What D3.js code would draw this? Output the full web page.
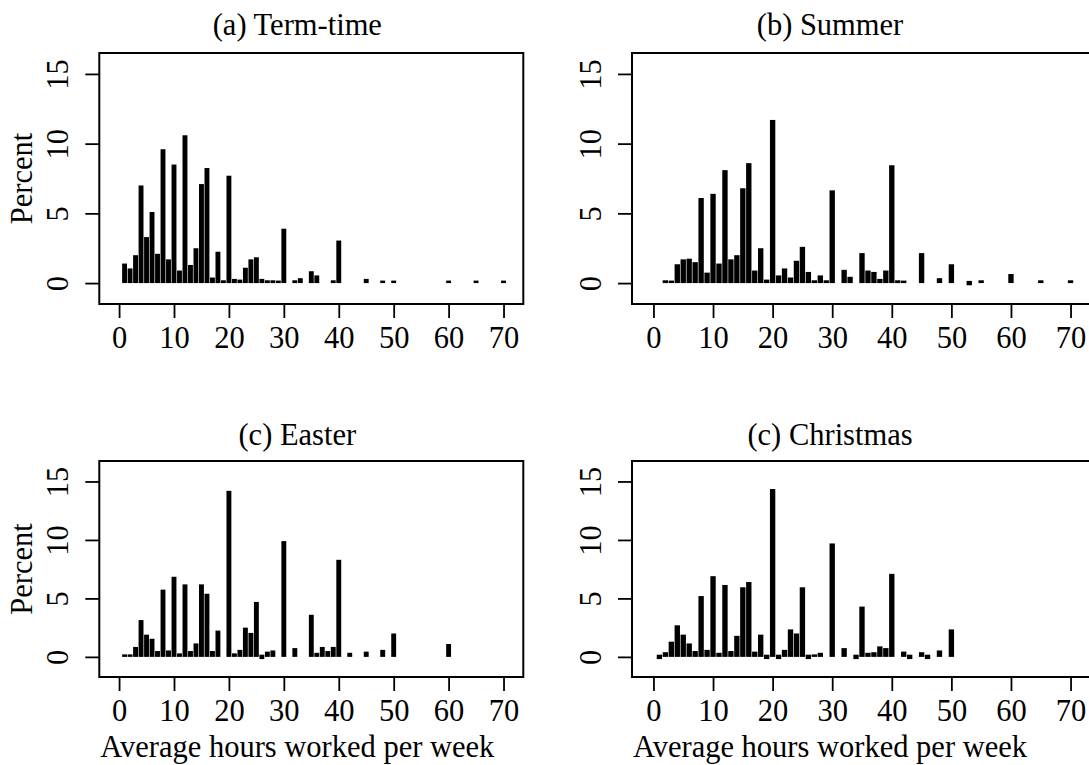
<!DOCTYPE html>
<html>
<head>
<meta charset="utf-8">
<script src="https://cdn.jsdelivr.net/npm/d3@7"></script>
<style>
  body { margin: 0; background: #fff; }
  text { font-family: "Liberation Serif", "Times New Roman", serif; }
</style>
</head>
<body>
<svg id="chart" width="1089" height="765"></svg>
<script>

//////////////////////////////////////////////////////////////
// Data: percent of students by average hours worked per week
//////////////////////////////////////////////////////////////

var termHours = [1,2,3,4,5,6,7,8,9,10,11,12,13,14,15,16,17,18,19,20,21,22,23,24,25,26,27,28,29,30,
                 32,33,35,36,39,40,45,48,50,60,65,70];
var termPct   = [1.4,1.05,2.0,7.0,3.3,5.1,2.1,9.6,1.7,8.5,0.9,10.6,1.3,2.5,7.1,8.25,0.4,2.25,0.2,7.7,
                 0.3,0.25,1.1,1.7,1.85,0.3,0.2,0.2,0.15,3.9,0.2,0.35,0.85,0.55,0.2,3.05,0.3,0.15,0.15,
                 0.15,0.15,0.15];

var summerHours = [2,3,4,5,6,7,8,9,10,11,12,13,14,15,16,17,18,19,20,21,22,23,24,25,26,27,28,29,30,
                   32,33,35,36,37,38,39,40,41,42,45,48,50,53,55,60,65,70];
var summerPct   = [0.2,0.15,1.35,1.7,1.75,1.5,6.1,0.75,6.4,1.4,8.1,1.7,2.0,6.8,8.6,0.9,2.5,0.25,11.7,
                   0.55,1.05,0.4,1.6,2.6,0.8,0.2,0.55,0.2,6.65,0.95,0.45,2.15,0.9,0.8,0.3,0.9,8.45,
                   0.2,0.15,2.15,0.35,1.35,0,0.2,0.65,0.2,0.2];

var easterHours = [1,2,3,4,5,6,7,8,9,10,11,12,13,14,15,16,17,18,20,21,22,23,24,25,26,27,28,30,32,
                   35,36,37,38,39,40,42,45,48,50,60];
var easterPct   = [0.2,0.2,0.85,3.15,1.9,1.55,0.5,5.75,0.55,6.85,0.3,6.2,0.5,1.15,6.2,5.4,0.5,2.25,
                   14.2,0.3,0.6,2.5,2.05,4.7,0,0.45,0.55,9.9,0.75,3.6,0.35,0.85,0.5,0.85,8.3,0.35,
                   0.45,0.6,2.0,1.1];

var christmasHours = [1,2,3,4,5,6,7,8,9,10,11,12,13,14,15,16,17,18,19,20,21,22,23,24,25,26,27,28,
                      30,32,34,35,36,37,38,39,40,42,43,45,46,48,50];
var christmasPct   = [0,0.4,1.3,2.7,1.9,1.15,0.5,5.2,0.6,6.9,0.35,6.15,0.5,1.8,5.95,6.4,0.45,1.9,0,
                      14.35,0,0.6,2.35,2.0,5.95,0,0.2,0.35,9.7,0.75,0,4.3,0.35,0.4,0.9,0.75,7.1,
                      0.45,0,0.4,0,0.55,2.35];

var titles = ["(a) Term-time", "(b) Summer", "(c) Easter", "(c) Christmas"];
var xTicks = [0,10,20,30,40,50,60,70];
var yTicks = [0,5,10,15];
var yLabel = "Percent";
var xLabel = "Average hours worked per week";

var fontSize = 30.5;
var svg = d3.select("#chart");

/////////////////////////////////////////////////////////////////
// Draw one panel: box, bars, axes and labels
/////////////////////////////////////////////////////////////////

function drawPanel(hours, pct, title, box, yDomain, titleGap, showYLab, showXLab) {

    var xScale = d3.scaleLinear()
                   .domain([-3.6, 73.6])
                   .range([box.left, box.right]);

    var yScale = d3.scaleLinear()
                   .domain(yDomain)
                   .range([box.bottom, box.top]);

    var data = hours.map(function(h, i) { return {hour: h, pct: pct[i]}; });
    var y0 = yScale(0);

    // bars, one hour wide; zero values show as a small dot on the baseline
    svg.append("g")
       .selectAll("rect")
       .data(data)
       .enter()
       .append("rect")
       .attr("x", function(d) { return xScale(d.hour - 0.5) + 0.3; })
       .attr("width", function(d) { return xScale(d.hour + 0.5) - xScale(d.hour - 0.5) - 0.6; })
       .attr("y", function(d) {
           if (d.pct === 0) return y0 - 2.2;
           return Math.min(yScale(d.pct), y0 - 2.5);
       })
       .attr("height", function(d) {
           if (d.pct === 0) return 4.4;
           return Math.max(y0 - yScale(d.pct), 2.5);
       })
       .attr("fill", "#000");

    // x axis
    var xAxis = d3.axisBottom(xScale)
                  .tickValues(xTicks)
                  .tickSizeInner(14)
                  .tickSizeOuter(0)
                  .tickPadding(8)
                  .tickFormat(d3.format("d"));

    var gx = svg.append("g")
                .attr("transform", "translate(0," + box.bottom + ")")
                .call(xAxis);
    gx.select(".domain").remove();
    gx.selectAll("line").attr("stroke", "#000").attr("stroke-width", 1.8);
    gx.selectAll("text")
      .attr("font-size", fontSize)
      .attr("font-family", "Liberation Serif, Times New Roman, serif")
      .attr("fill", "#000");

    // y axis, labels parallel to the axis as in R
    var yAxis = d3.axisLeft(yScale)
                  .tickValues(yTicks)
                  .tickSizeInner(14)
                  .tickSizeOuter(0)
                  .tickFormat(d3.format("d"));

    var gy = svg.append("g")
                .attr("transform", "translate(" + box.left + ",0)")
                .call(yAxis);
    gy.select(".domain").remove();
    gy.selectAll("line").attr("stroke", "#000").attr("stroke-width", 1.8);
    gy.selectAll("text")
      .attr("x", null)
      .attr("dy", null)
      .attr("text-anchor", "middle")
      .attr("transform", "translate(-31,0) rotate(-90)")
      .attr("font-size", fontSize)
      .attr("font-family", "Liberation Serif, Times New Roman, serif")
      .attr("fill", "#000");

    // box
    svg.append("rect")
       .attr("x", box.left)
       .attr("y", box.top)
       .attr("width", box.right - box.left)
       .attr("height", box.bottom - box.top)
       .attr("fill", "none")
       .attr("stroke", "#000")
       .attr("stroke-width", 2);

    // titles and x label sit a little left of the box centre in the original
    var cx = box.left + 198;
    var cy = (box.top + box.bottom) / 2;

    // title
    svg.append("text")
       .attr("x", cx)
       .attr("y", box.top - titleGap)
       .attr("text-anchor", "middle")
       .attr("font-size", fontSize)
       .text(title);

    if (showYLab) {
        svg.append("text")
           .attr("transform", "translate(" + (box.left - 67) + "," + cy + ") rotate(-90)")
           .attr("text-anchor", "middle")
           .attr("font-size", fontSize)
           .text(yLabel);
    }

    if (showXLab) {
        svg.append("text")
           .attr("x", cx)
           .attr("y", box.bottom + 80)
           .attr("text-anchor", "middle")
           .attr("font-size", fontSize)
           .text(xLabel);
    }
}

// layout of the four panels
var leftCol  = {left: 99.3, right: 523.3};
var rightCol = {left: 632,  right: 1092};
var topRow   = {top: 53,  bottom: 304};
var botRow   = {top: 461, bottom: 677};

drawPanel(termHours, termPct, titles[0],
          {left: leftCol.left, right: leftCol.right, top: topRow.top, bottom: topRow.bottom},
          [-1.5, 16.5], 18, true, false);
drawPanel(summerHours, summerPct, titles[1],
          {left: rightCol.left, right: rightCol.right, top: topRow.top, bottom: topRow.bottom},
          [-1.5, 16.5], 18, false, false);
drawPanel(easterHours, easterPct, titles[2],
          {left: leftCol.left, right: leftCol.right, top: botRow.top, bottom: botRow.bottom},
          [-1.72, 16.75], 16, true, true);
drawPanel(christmasHours, christmasPct, titles[3],
          {left: rightCol.left, right: rightCol.right, top: botRow.top, bottom: botRow.bottom},
          [-1.72, 16.75], 16, false, true);

</script>
</body>
</html>
